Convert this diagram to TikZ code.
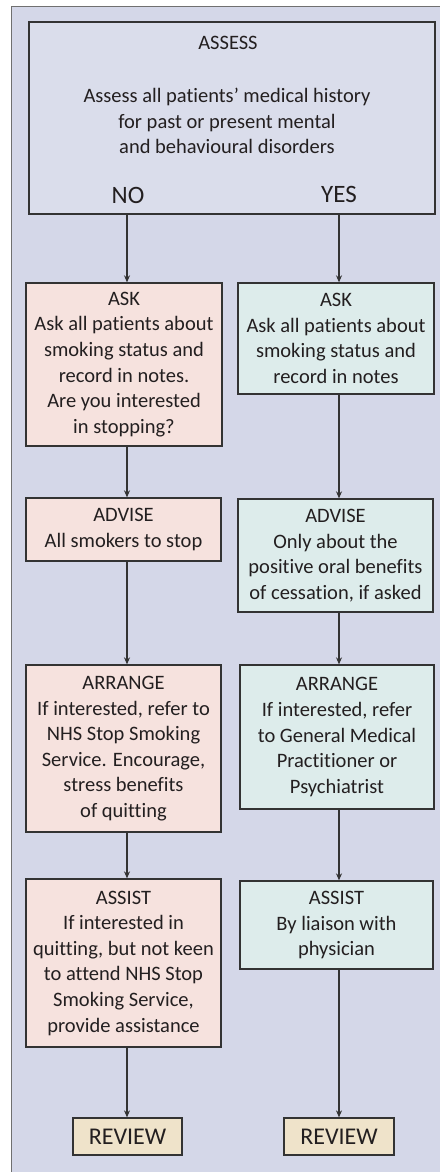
\documentclass[tikz,border=0pt]{standalone}
\usepackage{fontspec}
\setmainfont{Carlito}[Ligatures=NoCommon]
\usetikzlibrary{arrows.meta}
\definecolor{bgl}{HTML}{D4D7E8}
\definecolor{assessf}{HTML}{DADDEB}
\definecolor{pinkf}{HTML}{F6E2DE}
\definecolor{tealf}{HTML}{DDECEB}
\definecolor{tanf}{HTML}{EFE3CA}
\definecolor{boxline}{HTML}{333333}
\definecolor{framec}{HTML}{707070}
\definecolor{textc}{HTML}{231F20}
\begin{document}
\begin{tikzpicture}[x=1pt,y=-1pt,
  box/.style={draw=boxline, line width=1.3pt, inner sep=0pt, align=center, text=textc,
              font=\fontsize{20.5}{25.6}\selectfont},
  pinkbox/.style={box, fill=pinkf},
  tealbox/.style={box, fill=tealf},
  reviewbox/.style={box, fill=tanf, font=\fontsize{24}{28}\selectfont},
  plaintext/.style={inner sep=0pt, align=center, text=textc, font=\fontsize{20.5}{25.5}\selectfont},
  bigtext/.style={inner sep=0pt, text=textc, font=\fontsize{25}{30}\selectfont},
  arr/.style={draw=boxline, line width=1.3pt, -{Stealth[length=7pt,width=6pt]}}]
\useasboundingbox (0,0) rectangle (439,1172);
\fill[white] (0,0) rectangle (439,1172);
\draw[fill=bgl, draw=framec, line width=1pt] (11,7) rectangle (470,1200);

% assess box
\node[box, fill=assessf, minimum width=406pt, minimum height=192pt] (assess) at (232,118) {};
\node[plaintext] (asstitle) at (228,43) {ASSESS};
\node[plaintext] (assbody) at (227,121) {Assess all patients’ medical history\\for past or present mental\\and behavioural disorders};
\node[bigtext] (no) at (128,195) {NO};
\node[bigtext] (yes) at (339,194) {YES};

\coordinate (cl) at (127,0);
\coordinate (cr) at (339,0);

% left column
\node[pinkbox, minimum width=196pt, minimum height=163pt] (askL) at (124,364.5)
  {ASK\\Ask all patients about\\smoking status and\\record in notes.\\Are you interested\\in stopping?};
\node[pinkbox, minimum width=195pt, minimum height=63pt] (adviseL) at (123.5,529.5)
  {ADVISE\\All smokers to stop};
\node[pinkbox, minimum width=195pt, minimum height=167pt] (arrangeL) at (123.5,748.5)
  {ARRANGE\\If interested, refer to\\NHS Stop Smoking\\Service. Encourage,\\stress benefits\\of quitting};
\node[pinkbox, minimum width=195pt, minimum height=168pt] (assistL) at (123.5,963)
  {ASSIST\\If interested in\\quitting, but not keen\\to attend NHS Stop\\Smoking Service,\\provide assistance};
\node[reviewbox, minimum width=109pt, minimum height=37pt] (reviewL) at (127.5,1136.5) {REVIEW};

% right column
\node[tealbox, minimum width=196pt, minimum height=111pt] (askR) at (336,338.5)
  {ASK\\Ask all patients about\\smoking status and\\record in notes};
\node[tealbox, minimum width=195pt, minimum height=113pt] (adviseR) at (335.5,555.5)
  {ADVISE\\Only about the\\positive oral benefits\\of cessation, if asked};
\node[tealbox, minimum width=194pt, minimum height=144pt] (arrangeR) at (337,737)
  {ARRANGE\\If interested, refer\\to General Medical\\Practitioner or\\Psychiatrist};
\node[tealbox, minimum width=193pt, minimum height=88pt] (assistR) at (336.5,925)
  {ASSIST\\By liaison with\\physician};
\node[reviewbox, minimum width=110pt, minimum height=37pt] (reviewR) at (339,1136.5) {REVIEW};

% connectors
\draw[arr] (assess.south -| cl) -- (askL.north -| cl);
\draw[arr] (askL.south -| cl) -- (adviseL.north -| cl);
\draw[arr] (adviseL.south -| cl) -- (arrangeL.north -| cl);
\draw[arr] (arrangeL.south -| cl) -- (assistL.north -| cl);
\draw[arr] (assistL.south -| cl) -- (reviewL.north -| cl);

\draw[arr] (assess.south -| cr) -- (askR.north -| cr);
\draw[arr] (askR.south -| cr) -- (adviseR.north -| cr);
\draw[arr] (adviseR.south -| cr) -- (arrangeR.north -| cr);
\draw[arr] (arrangeR.south -| cr) -- (assistR.north -| cr);
\draw[arr] (assistR.south -| cr) -- (reviewR.north -| cr);
\end{tikzpicture}
\end{document}
